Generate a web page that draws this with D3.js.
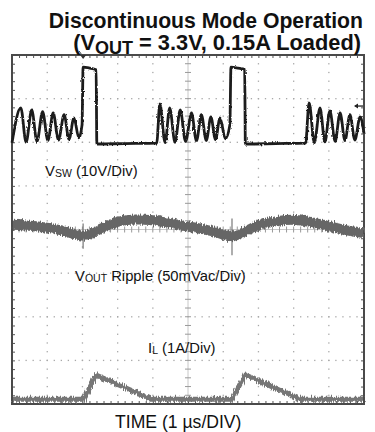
<!DOCTYPE html>
<html>
<head>
<meta charset="utf-8">
<script src="https://cdn.jsdelivr.net/npm/d3@7"></script>
<style>
  body { margin: 0; background: #fff; }
  svg { display: block; font-family: "Liberation Sans", Arial, sans-serif; }
</style>
</head>
<body>
<svg id="scope" width="375" height="432"></svg>
<script>
// time in us (1 us/div, 10 divs), level in divisions from the bottom (8 divs)
const timeDomain = [0, 10];
const divDomain = [0, 8];

// switch node voltage
const vswTrace = [
  [0.00, 5.99], [0.25, 6.79], [0.40, 6.00], [0.56, 6.74], [0.71, 6.02], [0.87, 6.70],
  [1.02, 6.04], [1.17, 6.67], [1.32, 6.05], [1.48, 6.63], [1.62, 6.07], [1.76, 6.56],
  [1.90, 6.10], [1.99, 6.40],
  [2.02, 7.72], [2.20, 7.70], [2.39, 7.66],
  [2.41, 5.96], [3.20, 5.97], [4.11, 5.98],
  [4.20, 6.88], [4.35, 5.99], [4.48, 6.79], [4.63, 6.00], [4.78, 6.74], [4.93, 6.02],
  [5.10, 6.67], [5.24, 6.03], [5.38, 6.63], [5.52, 6.04], [5.65, 6.58], [5.78, 6.06],
  [5.91, 6.56], [6.06, 6.08], [6.19, 6.40],
  [6.22, 7.72], [6.42, 7.70], [6.61, 7.67],
  [6.63, 5.96], [7.50, 5.97], [8.34, 5.98],
  [8.44, 6.90], [8.59, 5.99], [8.75, 6.79], [8.89, 6.01], [9.03, 6.72], [9.18, 6.02],
  [9.32, 6.67], [9.46, 6.04], [9.60, 6.63], [9.74, 6.05], [9.89, 6.58], [10.0, 6.20]
];

// output ripple, band centre
const voutTrace = [
  [0.00, 4.11], [0.60, 4.08], [1.08, 4.03], [1.50, 3.96], [1.85, 3.88], [2.10, 3.86],
  [2.40, 3.97], [2.75, 4.10], [3.07, 4.19], [3.50, 4.23], [3.92, 4.22], [4.40, 4.16],
  [4.77, 4.10], [5.34, 4.02], [5.75, 3.95], [6.05, 3.87], [6.30, 3.85], [6.60, 3.95],
  [7.05, 4.11], [7.50, 4.19], [8.04, 4.22], [8.50, 4.17], [9.03, 4.07], [9.50, 3.98],
  [10.0, 3.92]
];
const voutSpikes = [[2.02, 3.56, 4.14], [6.25, 3.41, 4.25]];

// inductor current
const ilTrace = [
  [0.00, 0.11], [2.03, 0.11], [2.40, 0.66], [3.97, 0.11],
  [6.25, 0.11], [6.62, 0.67], [8.18, 0.11], [10.0, 0.11]
];

const titleLine1 = "Discontinuous Mode Operation";
const axisTitle = "TIME (1 \u00b5s/DIV)";

const svg = d3.select("#scope");
const x = d3.scaleLinear().domain(timeDomain).range([12, 364]);
const y = d3.scaleLinear().domain(divDomain).range([404, 55]);

const xMinor = d3.range(0, 10.001, 0.2);
const yMinor = d3.range(0, 8.001, 0.2);

const defs = svg.append("defs");
function addNoise(id, scale, freq, seed) {
  const f = defs.append("filter").attr("id", id)
    .attr("x", "-5%").attr("y", "-50%").attr("width", "110%").attr("height", "200%");
  f.append("feTurbulence").attr("type", "fractalNoise")
    .attr("baseFrequency", freq).attr("numOctaves", 2).attr("seed", seed).attr("result", "t");
  f.append("feDisplacementMap").attr("in", "SourceGraphic").attr("in2", "t")
    .attr("scale", scale).attr("xChannelSelector", "R").attr("yChannelSelector", "G");
}
addNoise("noise", 6, "0.9 0.08", 3);
addNoise("fuzz", 2.5, "1.2 0.3", 7);

// dotted graticule
const grid = svg.append("g").attr("fill", "#a8a8a8");
d3.range(1, 10).filter(v => v !== 5).forEach(v => {
  grid.selectAll(null).data(yMinor).enter().append("rect")
    .attr("x", x(v) - 0.6).attr("y", d => y(d) - 0.6).attr("width", 1.3).attr("height", 1.3);
});
d3.range(1, 8).filter(v => v !== 4).forEach(v => {
  grid.selectAll(null).data(xMinor).enter().append("rect")
    .attr("x", d => x(d) - 0.6).attr("y", y(v) - 0.6).attr("width", 1.3).attr("height", 1.3);
});

// centre cross with minor ticks
const cross = svg.append("g").attr("stroke", "#9a9a9a").attr("stroke-width", 1);
cross.append("line").attr("x1", x(0)).attr("x2", x(10)).attr("y1", y(4)).attr("y2", y(4)).attr("stroke", "#c8c8c8");
cross.append("line").attr("x1", x(5)).attr("x2", x(5)).attr("y1", y(0)).attr("y2", y(8)).attr("stroke", "#c8c8c8");
cross.selectAll(null).data(xMinor).enter().append("line")
  .attr("x1", d => x(d)).attr("x2", d => x(d))
  .attr("y1", y(4) - 3).attr("y2", y(4) + 3);
cross.selectAll(null).data(yMinor).enter().append("line")
  .attr("y1", d => y(d)).attr("y2", d => y(d))
  .attr("x1", x(5) - 3).attr("x2", x(5) + 3);

// border ticks through d3 axes
const tickStyle = g => {
  g.select(".domain").remove();
  g.selectAll("line").attr("stroke", "#555").attr("stroke-width", 1);
  g.selectAll("text").remove();
};
svg.append("g").attr("transform", `translate(0,${y(8)})`)
  .call(d3.axisBottom(x).tickValues(xMinor).tickSize(3).tickFormat("")).call(tickStyle);
svg.append("g").attr("transform", `translate(0,${y(0)})`)
  .call(d3.axisTop(x).tickValues(xMinor).tickSize(3).tickFormat("")).call(tickStyle);
svg.append("g").attr("transform", `translate(${x(0)},0)`)
  .call(d3.axisRight(y).tickValues(yMinor).tickSize(3).tickFormat("")).call(tickStyle);
svg.append("g").attr("transform", `translate(${x(10)},0)`)
  .call(d3.axisLeft(y).tickValues(yMinor).tickSize(3).tickFormat("")).call(tickStyle);

svg.append("rect")
  .attr("x", x(0)).attr("y", y(8)).attr("width", x(10) - x(0)).attr("height", y(0) - y(8))
  .attr("fill", "none").attr("stroke", "#4a4a4a").attr("stroke-width", 2);

const line = d3.line().x(d => x(d[0])).y(d => y(d[1]));

// traces
svg.append("path").datum(ilTrace)
  .attr("d", line).attr("fill", "none")
  .attr("stroke", "#767676").attr("stroke-width", 5).attr("filter", "url(#noise)");

svg.selectAll(".spike").data(voutSpikes).enter().append("line")
  .attr("x1", d => x(d[0])).attr("x2", d => x(d[0]))
  .attr("y1", d => y(d[1])).attr("y2", d => y(d[2]))
  .attr("stroke", "#777").attr("stroke-width", 1.2);
svg.append("path").datum(voutTrace)
  .attr("d", d3.line().x(d => x(d[0])).y(d => y(d[1])).curve(d3.curveCatmullRom))
  .attr("fill", "none")
  .attr("stroke", "#666").attr("stroke-width", 10).attr("filter", "url(#noise)");

svg.append("path").datum(vswTrace)
  .attr("d", d3.line().x(d => x(d[0])).y(d => y(d[1])).curve(d3.curveMonotoneX))
  .attr("fill", "none").attr("stroke", "#1e1e1e").attr("stroke-width", 2.8)
  .attr("stroke-linejoin", "round").attr("filter", "url(#fuzz)");

// trigger marker and level arrow
svg.append("path")
  .attr("d", `M${x(2.02) - 3},${y(8)} L${x(2.02) + 3},${y(8)} L${x(2.02)},${y(8) + 4} Z`)
  .attr("fill", "#333");
svg.append("path")
  .attr("d", `M${x(2.02) - 4},${y(8) - 4} L${x(2.02) - 1.5},${y(8) - 0.5}`)
  .attr("stroke", "#444").attr("stroke-width", 1);
svg.append("line")
  .attr("x1", x(10) - 9).attr("x2", x(10) - 1).attr("y1", y(6.83)).attr("y2", y(6.83))
  .attr("stroke", "#222").attr("stroke-width", 1.3);
svg.append("path")
  .attr("d", `M${x(10) - 10},${y(6.83)} l4,-2.5 l0,5 Z`).attr("fill", "#222");

// labels
const title = svg.append("g").attr("font-weight", "bold").attr("text-anchor", "end").attr("fill", "#111");
title.append("text").attr("x", 363).attr("y", 28).attr("font-size", 21.2).text(titleLine1);
const t2 = title.append("text").attr("x", 361).attr("y", 50).attr("font-size", 21.8);
t2.append("tspan").text("(V");
t2.append("tspan").attr("font-size", 18).attr("dy", 4).text("OUT");
t2.append("tspan").attr("dy", -4).text(" = 3.3V, 0.15A Loaded)");

const lab = svg.append("g").attr("font-size", 14.8).attr("fill", "#111");
const l1 = lab.append("text").attr("x", 45).attr("y", 176);
l1.append("tspan").text("V");
l1.append("tspan").attr("font-size", 10.5).attr("dy", 1).text("SW");
l1.append("tspan").attr("dy", -1).text(" (10V/Div)");

const l2 = lab.append("text").attr("x", 75).attr("y", 281);
l2.append("tspan").text("V");
l2.append("tspan").attr("font-size", 10.5).attr("dy", 1).text("OUT");
l2.append("tspan").attr("dy", -1).text(" Ripple (50mVac/Div)");

const l3 = lab.append("text").attr("x", 148).attr("y", 353);
l3.append("tspan").text("I");
l3.append("tspan").attr("font-size", 10.5).attr("dy", 1).text("L");
l3.append("tspan").attr("dy", -1).text(" (1A/Div)");

svg.append("text").attr("x", 115).attr("y", 428).attr("font-size", 17.6).attr("fill", "#111")
  .text(axisTitle);
</script>
</body>
</html>
